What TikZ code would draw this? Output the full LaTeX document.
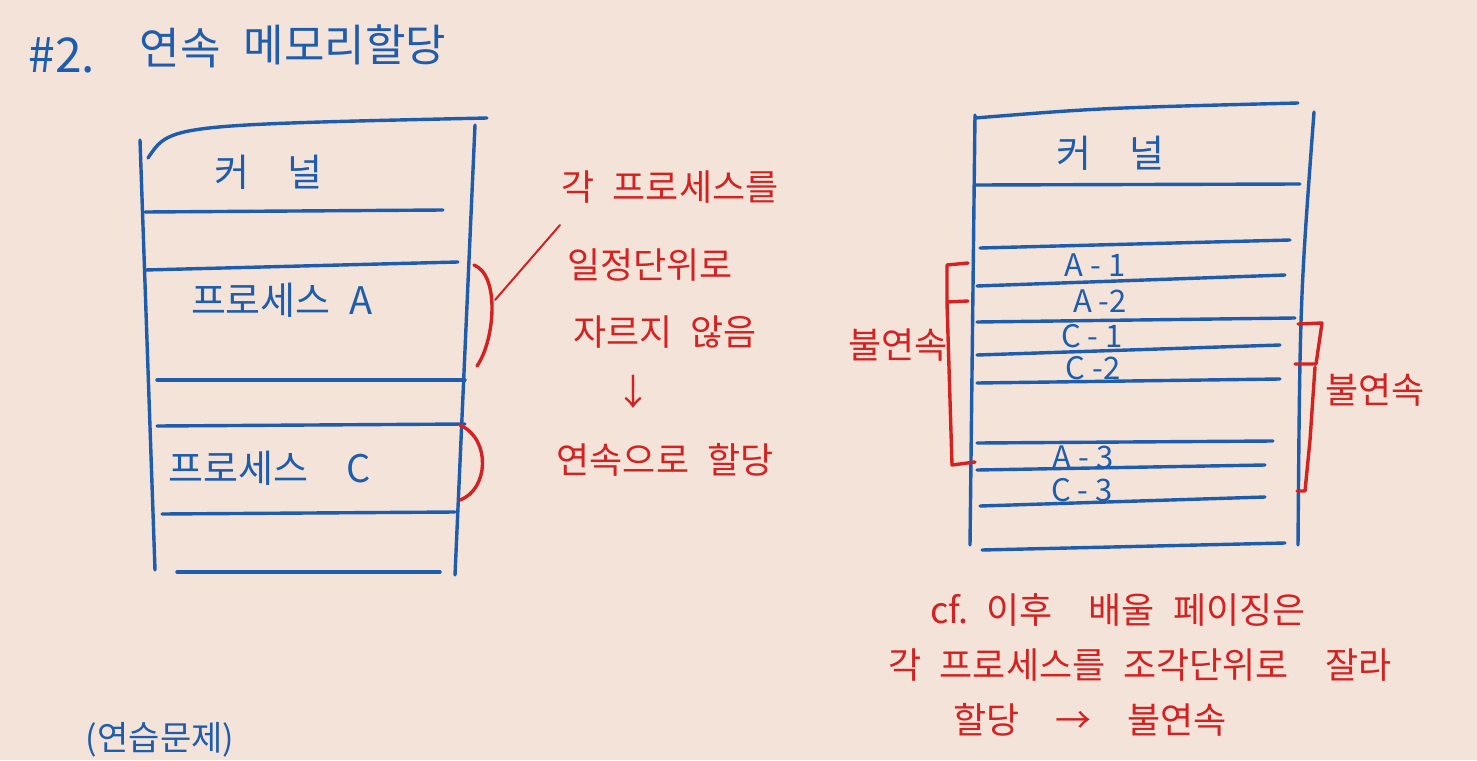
\documentclass[tikz,border=0pt]{standalone}
\usepackage{fontspec}
\setmainfont{Noto Sans CJK KR}
\definecolor{paper}{HTML}{F3E3D8}
\definecolor{bluepen}{HTML}{1E5CAE}
\definecolor{redpen}{HTML}{D42222}
\tikzset{
  pen/.style={draw=bluepen, line width=1.7pt, line cap=round, line join=round},
  redline/.style={draw=redpen, line width=1.7pt, line cap=round, line join=round},
  bluetext/.style={text=bluepen, font=\fontsize{19}{22}\selectfont, inner sep=1pt},
  redtext/.style={text=redpen, font=\fontsize{18}{21}\selectfont, inner sep=1pt},
  slot/.style={text=bluepen, font=\fontsize{15.5}{17}\selectfont, inner sep=1pt}
}
\begin{document}
\begin{tikzpicture}[x=0.5pt, y=-0.5pt]
\fill[paper] (0,0) rectangle (1477,760);
\clip (0,0) rectangle (1477,760);

% title
\node[bluetext, font=\fontsize{24}{26}\selectfont] (num) at (62,55) {\#2.};
\node[bluetext, font=\fontsize{22}{24}\selectfont] (cont) at (180,48) {연속};
\node[bluetext, font=\fontsize{22}{24}\selectfont] (alloc) at (345,45) {메모리할당};

% left memory: contiguous
\draw[pen] (148,158) .. controls (170,125) .. (487,118);
\draw[pen] (140,140) -- (155,570);
\draw[pen] (475,125) -- (455,575);
\draw[pen] (145,212) -- (443,210);
\draw[pen] (145,270) -- (458,262);
\draw[pen] (157,380) -- (465,380);
\draw[pen] (157,426) -- (465,424);
\draw[pen] (162,514) -- (455,512);
\draw[pen] (177,572) -- (440,572);
\node[bluetext] (kernL) at (268,172) {커\quad 널};
\node[bluetext] (procA) at (282,300) {프로세스\enspace A};
\node[bluetext] (procC) at (270,468) {프로세스\quad C};

% brackets and note
\draw[redline] (474,265) .. controls (500,275) and (495,340) .. (477,366);
\draw[redline] (460,425) .. controls (492,440) and (488,490) .. (460,500);
\coordinate (tip) at (495,300);
\node[redtext] (n1) at (670,187) {각\enspace 프로세스를};
\node[redtext] (n2) at (650,265) {일정단위로};
\node[redtext] (n3) at (665,332) {자르지\enspace 않음};
\node[redtext] (n4) at (633,392) {↓};
\node[redtext] (n5) at (665,460) {연속으로\enspace 할당};
\draw[redline, line width=1pt] (tip) -- (560,225);

% right memory: non-contiguous
\draw[pen] (975,118) .. controls (1100,108) .. (1298,103);
\draw[pen] (975,115) -- (970,545);
\draw[pen] (1314,112) .. controls (1300,300) .. (1298,545);
\draw[pen] (975,185) -- (1300,184);
\draw[pen] (980,248) -- (1290,240);
\draw[pen] (977,286) -- (1285,275);
\draw[pen] (977,322) -- (1295,318);
\draw[pen] (977,355) -- (1280,345);
\draw[pen] (977,383) -- (1280,379);
\draw[pen] (977,443) -- (1273,441);
\draw[pen] (977,470) -- (1265,465);
\draw[pen] (980,506) -- (1265,497);
\draw[pen] (982,550) -- (1285,543);
\node[bluetext] (kernR) at (1110,153) {커\quad 널};
\node[slot] (a1) at (1095,265) {A - 1};
\node[slot] (a2) at (1100,301) {A -2};
\node[slot] (c1) at (1092,336) {C - 1};
\node[slot] (c2) at (1093,368) {C -2};
\node[slot] (a3) at (1083,457) {A - 3};
\node[slot] (c3) at (1082,490) {C - 3};

% red brackets of the scattered pieces
\draw[redline] (968,263) -- (947,265) -- (947,302) -- (968,301);
\draw[redline] (947,303) -- (952,465) -- (975,462);
\node[redtext] (gapL) at (898,345) {불연속};
\draw[redline] (1298,324) -- (1322,323) -- (1316,364) -- (1295,364);
\draw[redline] (1315,367) -- (1310,440) -- (1305,491) -- (1297,491);
\node[redtext] (gapR) at (1375,390) {불연속};

% remark
\node[redtext] (cf1) at (1118,610) {cf.\enspace 이후\quad 배울\enspace 페이징은};
\node[redtext] (cf2) at (1140,665) {각\enspace 프로세스를\enspace 조각단위로\quad 잘라};
\node[redtext] (cf3) at (1090,720) {할당\quad →\quad 불연속};

% exercise heading at the bottom edge
\node[bluetext, font=\fontsize{17}{19}\selectfont] (drill) at (160,740) {(연습문제)};
\end{tikzpicture}
\end{document}
